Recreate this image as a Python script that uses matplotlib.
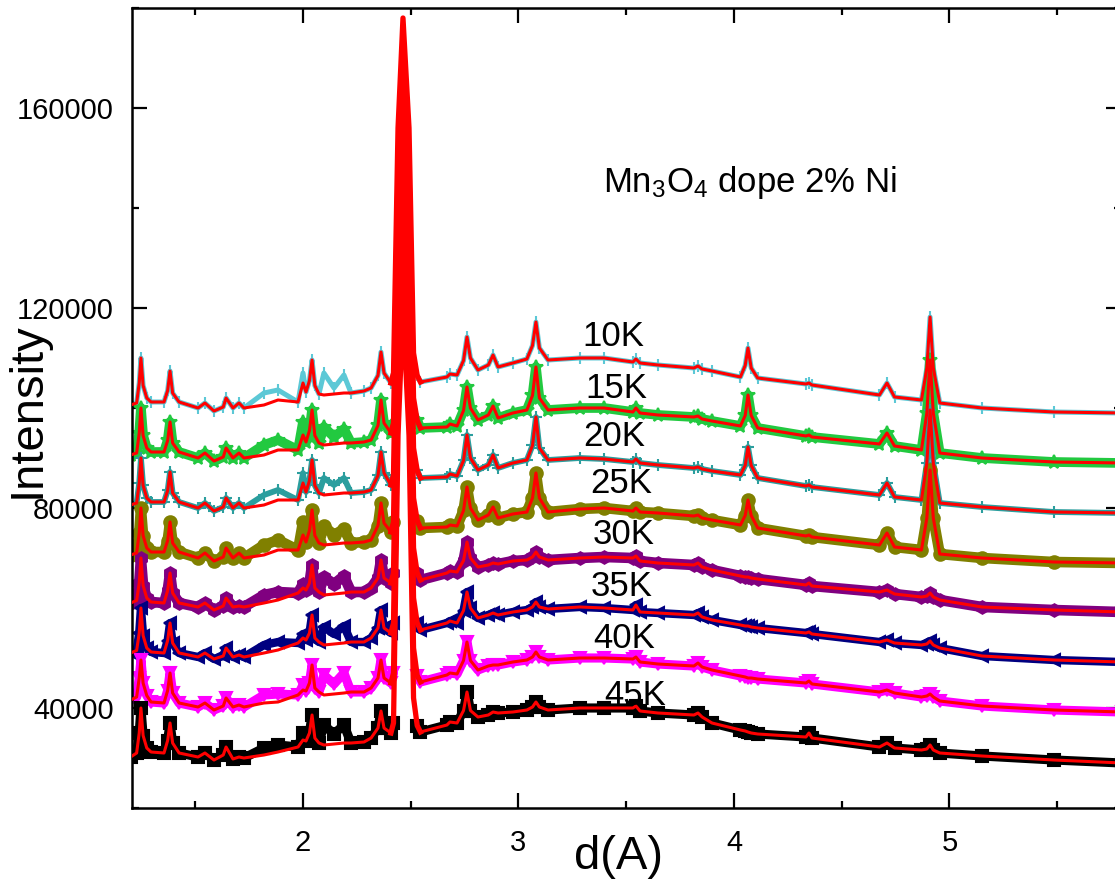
import numpy as np
import matplotlib
matplotlib.use('Agg')
import matplotlib.pyplot as plt
from matplotlib.ticker import MultipleLocator, FuncFormatter

plt.rcParams['font.family'] = ['Liberation Sans', 'DejaVu Sans']
plt.rcParams['mathtext.fontset'] = 'custom'
plt.rcParams['mathtext.rm'] = 'Liberation Sans'
plt.rcParams['mathtext.it'] = 'Liberation Sans:italic'

# ---------------- data (d in Angstrom, intensity in units of 1000 counts) ----
d_pts = [1.200, 1.228, 1.240, 1.248, 1.258, 1.275, 1.295, 1.355, 1.372, 1.383,
         1.395, 1.425, 1.513, 1.545, 1.587, 1.630, 1.643, 1.675, 1.703, 1.726,
         1.819, 1.884, 1.977, 2.000, 2.014, 2.030, 2.042, 2.055, 2.074, 2.097,
         2.144, 2.190, 2.223, 2.283, 2.316, 2.348, 2.362, 2.376, 2.408, 2.420,
         2.441, 2.464, 2.492, 2.513, 2.530, 2.545, 2.668, 2.682, 2.715, 2.745,
         2.761, 2.777, 2.812, 2.860, 2.882, 2.905, 2.974, 3.039, 3.065, 3.081,
         3.097, 3.137, 3.285, 3.397, 3.531, 3.545, 3.564, 3.647, 3.814, 3.833,
         3.852, 3.898, 4.030, 4.052, 4.065, 4.080, 4.110, 4.334, 4.348, 4.362,
         4.675, 4.710, 4.745, 4.870, 4.895, 4.910, 4.925, 4.955, 5.151, 5.485,
         5.800]

temps = ['10K', '15K', '20K', '25K', '30K', '35K', '40K', '45K']

fit_10K = [100.6, 101.0, 105.0, 110.0, 104.5, 102.0, 101.2, 101.2, 103.5, 107.4,
           103.0, 101.2, 100.0, 101.0, 99.4, 100.2, 102.0, 100.0, 101.0, 100.0,
           100.6, 101.6, 101.2, 105.0, 103.2, 105.5, 109.6, 104.5, 102.8, 102.6,
           102.8, 103.0, 103.0, 103.4, 104.0, 106.5, 111.2, 107.0, 105.0, 107.0,
           156.0, 178.0, 156.0, 111.0, 106.5, 105.2, 106.2, 106.8, 106.6, 109.5,
           114.2, 110.0, 107.6, 108.6, 110.6, 108.2, 109.0, 109.8, 112.5, 117.2,
           112.0, 109.6, 110.0, 110.0, 109.2, 109.8, 109.0, 108.6, 108.0, 108.4,
           107.8, 107.4, 106.2, 108.5, 112.0, 108.0, 106.0, 104.8, 105.0, 104.6,
           102.6, 105.0, 102.2, 101.6, 108.0, 118.2, 108.0, 101.0, 100.0, 99.2,
           99.0]
fit_15K = [90.6, 91.0, 95.0, 100.0, 94.5, 92.0, 91.2, 91.2, 93.5, 97.2,
           93.0, 91.2, 90.0, 91.0, 89.4, 90.2, 92.0, 90.0, 91.0, 90.0,
           90.6, 91.6, 91.6, 94.6, 93.2, 95.5, 99.6, 94.5, 93.0, 92.6,
           92.8, 93.0, 93.0, 93.2, 93.6, 96.5, 101.6, 97.0, 95.0, 97.0,
           147.5, 170.0, 147.5, 102.0, 97.5, 96.0, 96.2, 96.8, 96.4, 99.5,
           104.2, 100.0, 97.6, 98.6, 100.4, 98.0, 99.0, 99.6, 102.5, 108.2,
           102.0, 99.6, 100.0, 100.0, 99.2, 100.0, 99.0, 98.6, 98.2, 98.4,
           97.8, 97.4, 96.4, 98.5, 102.6, 98.5, 96.0, 94.4, 94.6, 94.2,
           92.8, 95.0, 92.4, 91.6, 99.0, 109.6, 99.0, 91.0, 90.0, 89.2,
           89.0]
fit_20K = [80.6, 81.0, 85.0, 90.0, 84.5, 82.0, 81.2, 81.2, 83.5, 87.2,
           83.0, 81.2, 80.0, 81.0, 79.4, 80.2, 82.0, 80.0, 81.0, 80.0,
           80.6, 81.6, 81.6, 85.0, 83.2, 85.5, 89.6, 84.5, 83.0, 82.6,
           82.8, 83.0, 83.0, 83.2, 83.6, 86.5, 91.2, 87.0, 84.6, 86.6,
           139.6, 163.0, 139.6, 92.0, 87.5, 86.0, 86.2, 86.8, 86.4, 89.5,
           94.6, 90.0, 87.6, 88.6, 90.6, 88.0, 89.0, 89.6, 92.5, 98.2,
           92.0, 89.6, 90.0, 89.8, 89.2, 89.8, 89.0, 88.6, 88.0, 88.2,
           87.8, 87.4, 86.6, 88.5, 92.2, 88.5, 86.0, 84.4, 84.6, 84.2,
           82.6, 85.0, 82.2, 81.6, 89.0, 99.6, 89.0, 81.0, 80.2, 79.2,
           79.0]
fit_25K = [70.6, 71.0, 75.0, 80.0, 74.5, 72.0, 71.2, 71.2, 73.5, 77.2,
           73.0, 71.2, 70.0, 71.0, 69.4, 70.2, 72.0, 70.0, 71.0, 70.0,
           70.6, 71.6, 71.6, 74.6, 73.2, 75.5, 79.6, 74.5, 73.0, 72.6,
           72.8, 73.0, 73.0, 73.2, 73.6, 76.5, 81.0, 77.0, 75.2, 77.2,
           131.7, 156.0, 131.7, 82.0, 77.5, 76.0, 76.2, 76.6, 76.4, 79.5,
           84.2, 80.0, 77.6, 78.6, 80.2, 78.0, 78.8, 79.2, 82.0, 87.0,
           82.0, 79.2, 79.8, 80.0, 79.4, 80.0, 79.2, 79.0, 78.4, 78.6,
           78.0, 77.6, 76.6, 78.5, 81.6, 78.5, 76.0, 74.4, 74.6, 74.2,
           72.6, 75.0, 72.2, 71.6, 78.0, 87.6, 78.0, 70.8, 70.0, 69.2,
           69.0]
fit_30K = [61.0, 61.5, 65.0, 70.0, 64.5, 62.0, 61.2, 61.0, 63.5, 67.0,
           63.0, 61.0, 60.2, 61.0, 59.6, 60.4, 62.0, 60.2, 60.4, 60.2,
           61.0, 61.6, 63.0, 64.0, 63.6, 65.0, 68.6, 64.0, 63.2, 62.6,
           62.8, 63.0, 63.2, 63.2, 64.0, 66.0, 69.6, 66.0, 65.0, 67.0,
           121.0, 145.0, 121.0, 72.0, 67.0, 65.6, 67.0, 67.4, 67.2, 69.5,
           73.2, 70.0, 68.2, 68.6, 69.0, 68.8, 69.4, 69.6, 70.2, 71.2,
           70.2, 69.6, 70.0, 70.2, 70.0, 70.4, 69.4, 69.0, 68.6, 69.0,
           68.2, 67.6, 66.4, 66.2, 66.2, 66.0, 65.8, 64.6, 65.0, 64.4,
           63.2, 63.6, 62.8, 62.2, 62.4, 63.0, 62.2, 61.6, 60.2, 59.6,
           59.2]
fit_35K = [51.0, 51.5, 55.0, 60.0, 54.5, 52.0, 51.2, 51.0, 53.5, 57.0,
           53.0, 51.0, 50.2, 51.0, 49.8, 50.4, 52.0, 50.2, 50.6, 50.2,
           51.0, 51.6, 53.0, 54.0, 53.6, 55.0, 58.6, 54.0, 53.2, 52.6,
           52.8, 53.0, 53.2, 53.2, 54.0, 56.0, 59.6, 56.0, 55.0, 57.0,
           112.4, 137.0, 112.4, 62.0, 57.0, 55.6, 57.0, 57.4, 57.0, 59.5,
           63.2, 60.0, 58.0, 58.6, 59.0, 58.6, 59.2, 59.6, 60.2, 61.2,
           60.2, 59.8, 60.2, 60.0, 59.6, 60.6, 59.2, 59.0, 58.6, 59.0,
           58.2, 57.6, 56.6, 56.4, 56.4, 56.2, 56.0, 55.0, 55.2, 54.8,
           53.2, 53.6, 53.0, 52.6, 52.8, 53.4, 52.6, 52.0, 50.4, 49.6,
           49.2]
fit_40K = [41.6, 42.2, 46.0, 49.6, 45.0, 42.5, 41.2, 41.0, 43.5, 47.0,
           43.0, 41.0, 40.2, 41.0, 39.6, 40.4, 42.0, 40.2, 40.6, 40.2,
           41.0, 41.2, 42.6, 43.6, 43.4, 45.0, 48.6, 44.0, 43.2, 42.6,
           42.8, 43.0, 43.2, 43.2, 44.0, 46.0, 49.6, 46.0, 45.0, 47.0,
           103.0, 128.0, 103.0, 52.0, 46.5, 45.2, 46.6, 47.0, 46.8, 49.5,
           53.2, 49.5, 47.6, 48.4, 48.6, 48.6, 49.2, 49.6, 50.2, 51.2,
           50.2, 49.6, 50.0, 50.0, 49.8, 50.2, 49.2, 48.8, 48.4, 49.0,
           48.2, 47.6, 46.4, 46.2, 46.0, 46.0, 45.8, 45.0, 45.4, 44.8,
           43.2, 43.6, 43.0, 42.2, 42.4, 42.8, 42.2, 41.4, 40.4, 39.6,
           39.2]
fit_45K = [30.2, 31.0, 35.0, 40.0, 34.5, 32.0, 31.2, 31.0, 33.5, 37.0,
           33.0, 31.0, 30.2, 31.0, 29.6, 30.6, 32.2, 29.8, 30.2, 30.0,
           30.6, 31.2, 32.2, 33.6, 33.4, 35.0, 38.6, 34.0, 33.0, 32.6,
           32.8, 33.0, 33.0, 33.2, 34.0, 36.0, 39.4, 36.0, 35.0, 37.0,
           94.5, 120.0, 94.5, 42.0, 36.5, 35.2, 36.6, 37.2, 37.0, 39.5,
           43.2, 39.5, 38.2, 38.6, 39.2, 39.0, 39.2, 39.6, 40.2, 41.2,
           40.2, 39.6, 40.0, 40.0, 40.0, 40.4, 39.4, 39.0, 38.6, 39.0,
           38.2, 37.0, 35.6, 35.4, 35.2, 35.0, 34.8, 34.2, 35.0, 34.0,
           32.2, 33.0, 32.0, 31.6, 31.8, 32.6, 31.6, 31.0, 30.4, 29.6,
           29.0]

# extra observed intensity (impurity bumps not in the fit), at these vertices
bump_idx = [20, 21, 23, 29, 30, 31]
bump_10K = [2.4, 2.0, 2.0, 4.4, 1.2, 3.6]
bump_15K = [2.0, 2.0, 2.6, 3.6, 1.4, 2.8]
bump_20K = [2.0, 2.0, 2.0, 3.4, 1.8, 3.0]
bump_25K = [2.0, 2.0, 2.6, 3.8, 1.8, 2.8]
bump_30K = [1.6, 1.6, 0.8, 3.6, 2.0, 3.4]
bump_35K = [1.6, 1.6, 0.8, 3.6, 2.0, 3.4]
bump_40K = [1.6, 1.6, 1.0, 4.0, 2.0, 4.0]
bump_45K = [1.4, 1.4, 1.4, 4.0, 2.0, 3.6]

fits = [fit_10K, fit_15K, fit_20K, fit_25K, fit_30K, fit_35K, fit_40K, fit_45K]
bumps = [bump_10K, bump_15K, bump_20K, bump_25K, bump_30K, bump_35K, bump_40K, bump_45K]

# ---------------- styles ----------------
colors = ['#5cc8d6', '#22c940', '#2b9e9e', '#808000', '#800080', '#000080', '#ff00ff', '#000000']
markers = ['|', '*', '+', 'o', 'h', '<', 'v', 's']
band_lw = [3.6, 7.0, 4.2, 7.6, 7.6, 6.0, 6.6, 6.6]
msizes = [9, 10, 9, 9, 9, 8, 9, 8]
label_pos = [(3.44, 114300), (3.455, 103900), (3.445, 94300), (3.475, 84900),
             (3.49, 74700), (3.48, 64300), (3.49, 53900), (3.54, 42600)]
peak_lo, peak_hi = 39, 44   # vertex range of the strong 2.46 A reflection

fig = plt.figure(figsize=(11.15, 8.8), dpi=100)
ax = fig.add_axes([132 / 1115, 72 / 880, 989 / 1115, 800 / 880])

d = np.array(d_pts)
for i in range(len(temps)):
    fit = np.array(fits[i]) * 1000.0
    obs = fit.copy()
    obs[bump_idx] += np.array(bumps[i]) * 1000.0
    # broad band outside the main reflection
    for sl in (slice(0, peak_lo + 1), slice(peak_hi, None)):
        ax.plot(d[sl], obs[sl], color=colors[i], lw=band_lw[i], marker=markers[i],
                ms=msizes[i], mew=1.5, mec=colors[i], mfc=colors[i],
                solid_joinstyle='round', solid_capstyle='round', zorder=2)
    # points on the steep flanks of the main reflection
    sl = slice(peak_lo, peak_hi + 1)
    ax.plot(d[sl], obs[sl], color=colors[i], lw=2.0, ls=(0, (2, 3)),
            zorder=2)

for i in range(len(temps)):
    fit = np.array(fits[i]) * 1000.0
    ax.plot(d, fit, color='#ff0000', lw=2.2, zorder=3, solid_joinstyle='round')
    sl = slice(peak_lo - 1, peak_hi + 2)
    ax.plot(d[sl], fit[sl], color='#ff0000', lw=3.8, zorder=3,
            solid_joinstyle='round')

for i, t in enumerate(temps):
    ax.text(label_pos[i][0], label_pos[i][1], t, fontsize=25, ha='center',
            va='center', zorder=5)

ax.set_xlim(1.2065, 5.796)
ax.set_ylim(20000, 180000)

ax.xaxis.set_major_locator(MultipleLocator(1))
ax.xaxis.set_minor_locator(MultipleLocator(0.5))
ax.yaxis.set_major_locator(MultipleLocator(40000))
ax.yaxis.set_minor_locator(MultipleLocator(20000))
ax.xaxis.set_major_formatter(FuncFormatter(lambda v, p: f'{v:.0f}'))
ax.yaxis.set_major_formatter(FuncFormatter(lambda v, p: f'{v:.0f}'))

ax.tick_params(which='both', direction='in', top=True, right=True, width=1.6)
ax.tick_params(which='major', length=11)
ax.tick_params(which='minor', length=5)
ax.tick_params(axis='y', labelsize=21, pad=13)
ax.tick_params(axis='x', labelsize=21, pad=15)
for s in ax.spines.values():
    s.set_linewidth(1.8)

fig.text(619 / 1115, 1 - 857 / 880, 'd(A)', fontsize=34, ha='center', va='center')
fig.text(28 / 1115, 1 - 410 / 880, 'Intensity', fontsize=34, ha='center',
         va='center', rotation=90)
fig.text(603 / 1115, 1 - 192 / 880,
         r'Mn$_{\mathregular{3}}$O$_{\mathregular{4}}$ dope 2% Ni',
         fontsize=25, ha='left', va='baseline')

fig.savefig('out.png', dpi=100)
